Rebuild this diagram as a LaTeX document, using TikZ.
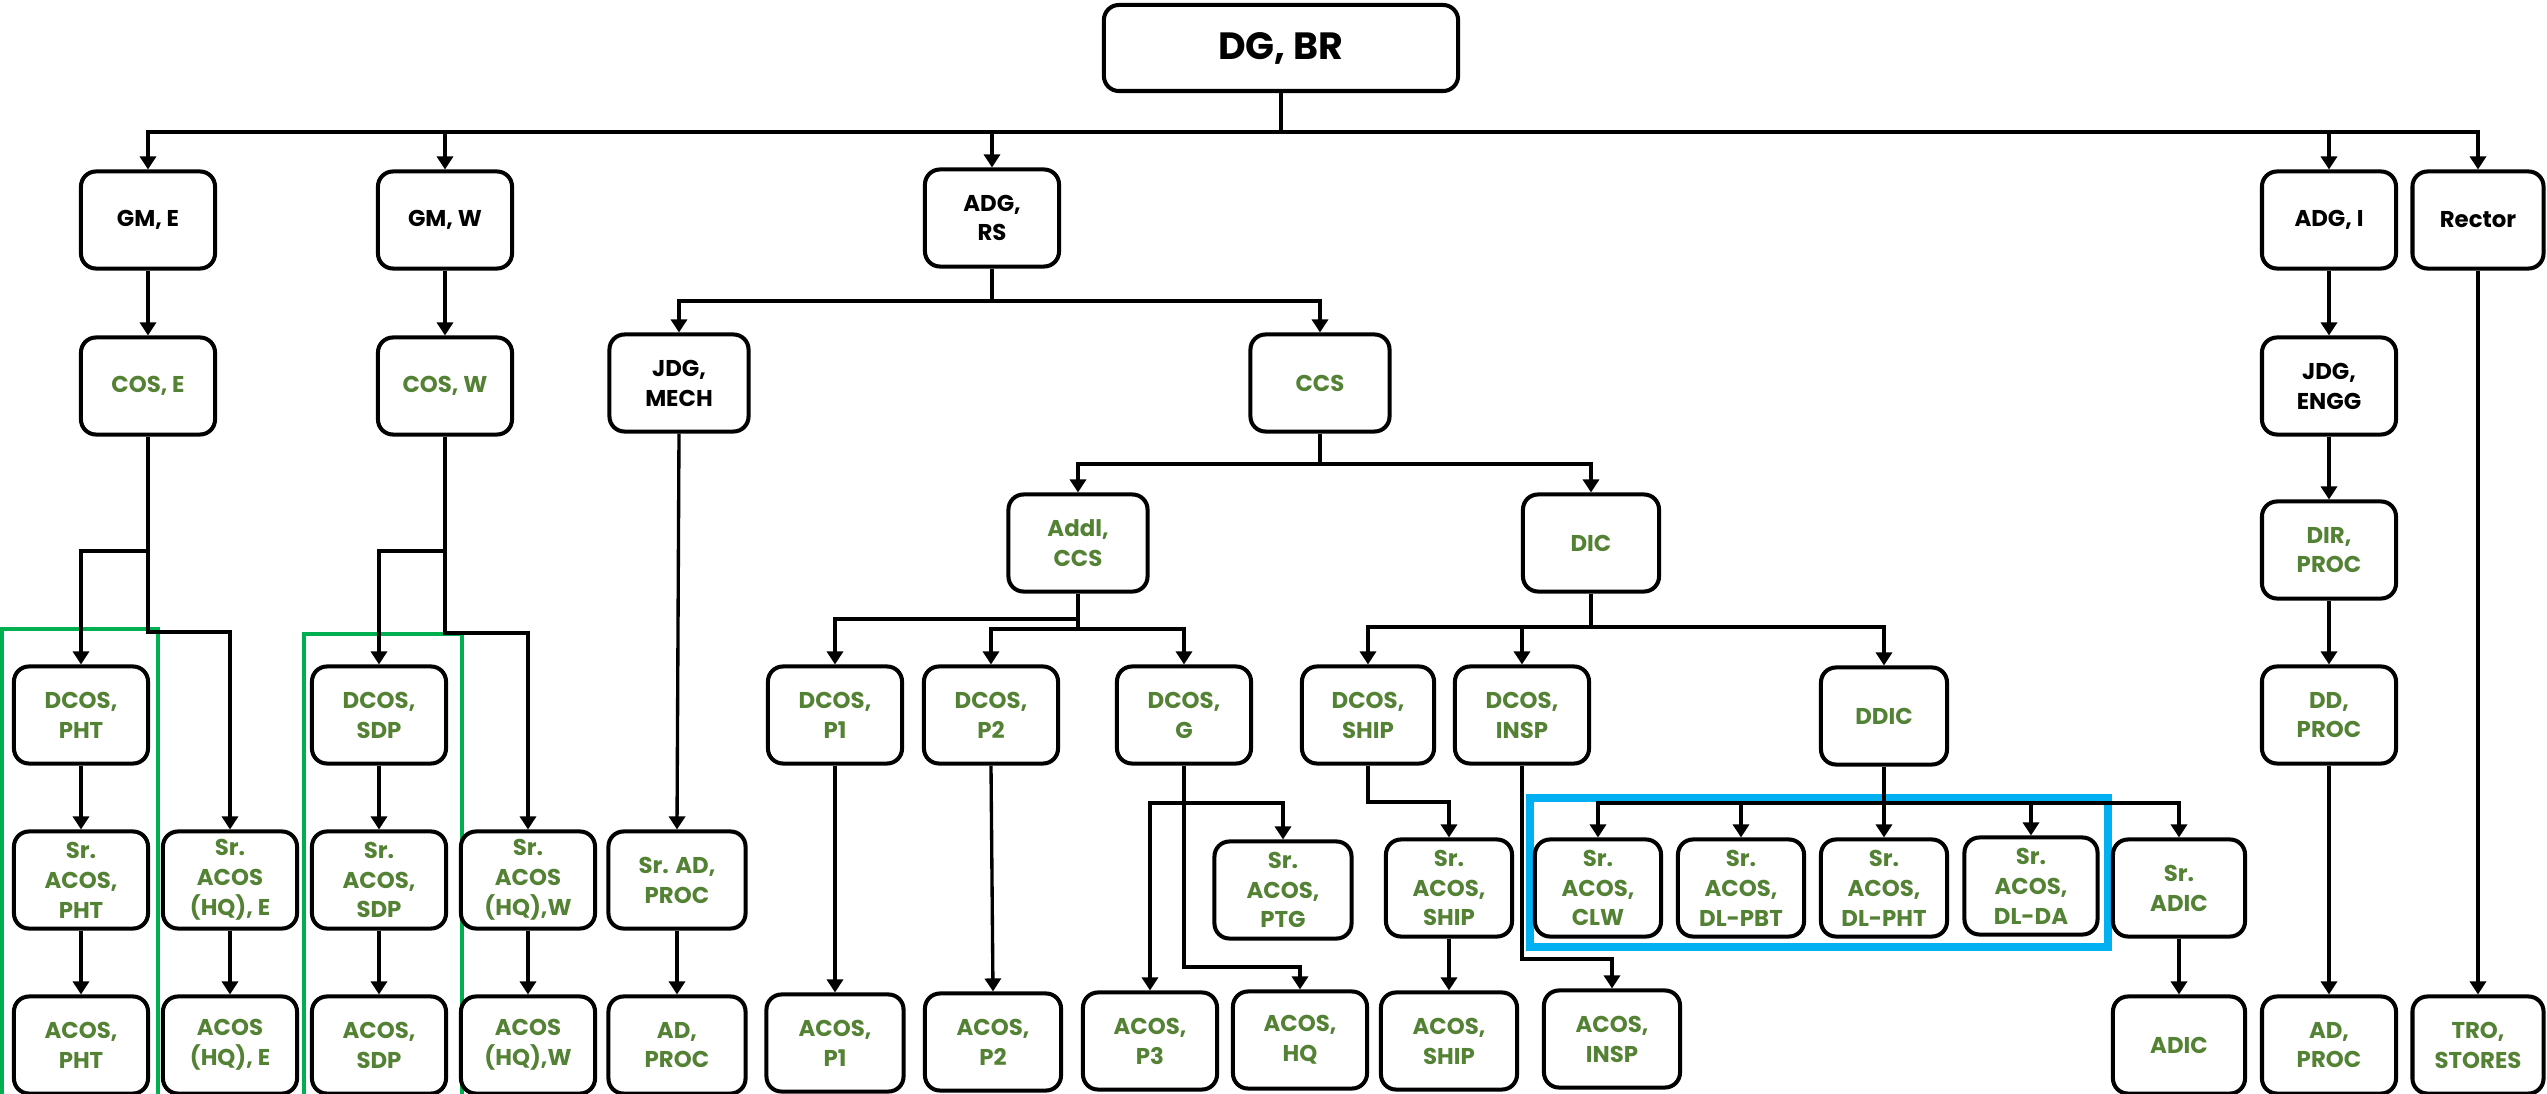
\documentclass[tikz,border=0pt]{standalone}
\usepackage{fontspec}
\setmainfont{Poppins}
\usetikzlibrary{arrows.meta}
\definecolor{txtgreen}{RGB}{84,130,53}
\definecolor{framegreen}{RGB}{0,176,80}
\definecolor{frameblue}{RGB}{0,176,240}
\tikzset{
    orgbox/.style={draw,line width=1.15pt,rounded corners=0.15cm,fill=white,minimum width=1.34cm,minimum height=0.97cm,inner sep=0pt,align=center,font=\fontsize{6.5}{8.5}\selectfont\bfseries},
    grn/.style={orgbox,text=txtgreen},
    ln/.style={line width=0.95pt},
    arr/.style={ln,-{Triangle[length=0.13cm,width=0.16cm]}}
}

\begin{document}
\begin{tikzpicture}[x=0.01cm,y=-0.01cm]
                \useasboundingbox (0,0) rectangle (2547,1094);
                % frames
                \draw[framegreen,line width=1.2pt] (2,1100)--(2,629)--(158,629)--(158,1100);
                \draw[framegreen,line width=1.2pt] (304,1100)--(304,634)--(462,634)--(462,1100);
                \draw[frameblue,line width=2pt] (1530,798) rectangle (2108,947);
                % top
                \node[orgbox,minimum width=3.54cm,minimum height=0.86cm,font=\fontsize{10.8}{12}\selectfont\bfseries] (dg) at (1281,48) {DG, BR};
                \node[orgbox] (gme) at (148,220) {GM, E};
                \node[orgbox] (gmw) at (445,220) {GM, W};
                \node[orgbox] (adgrs) at (992,218) {ADG,\\RS};
                \node[orgbox] (adgi) at (2329,220) {ADG, I};
                \node[orgbox,minimum width=1.31cm] (rector) at (2478,220) {Rector};
                % second row
                \node[grn] (cose) at (148,386) {COS, E};
                \node[grn] (cosw) at (445,386) {COS, W};
                \node[orgbox,minimum width=1.39cm] (jdgmech) at (679,383) {JDG,\\MECH};
                \node[grn,minimum width=1.39cm] (ccs) at (1320,383) {CCS};
                \node[orgbox] (jdgengg) at (2329,386) {JDG,\\ENGG};
                \node[grn,minimum width=1.39cm] (addl) at (1078,543) {Addl,\\CCS};
                \node[grn,minimum width=1.36cm] (dic) at (1591,543) {DIC};
                \node[grn] (dirproc) at (2329,550) {DIR,\\PROC};
                % DCOS row
                \node[grn] (dcospht) at (81,715) {DCOS,\\PHT};
                \node[grn] (dcossdp) at (379,715) {DCOS,\\SDP};
                \node[grn] (dcosp1) at (835,715) {DCOS,\\P1};
                \node[grn] (dcosp2) at (991,715) {DCOS,\\P2};
                \node[grn] (dcosg) at (1184,715) {DCOS,\\G};
                \node[grn,minimum width=1.32cm] (dcosship) at (1368,715) {DCOS,\\SHIP};
                \node[grn] (dcosinsp) at (1522,715) {DCOS,\\INSP};
                \node[grn,minimum width=1.26cm] (ddic) at (1884,716) {DDIC};
                \node[grn] (ddproc) at (2329,715) {DD,\\PROC};
                % Sr. row
                \node[grn] (sracospht) at (81,880) {Sr.\\ACOS,\\PHT};
                \node[grn] (sracoshqe) at (230,880) {Sr.\\ACOS\\(HQ), E};
                \node[grn] (sracossdp) at (379,880) {Sr.\\ACOS,\\SDP};
                \node[grn] (sracoshqw) at (528,880) {Sr.\\ACOS\\(HQ),W};
                \node[grn,minimum width=1.37cm] (sradproc) at (677,880) {Sr. AD,\\PROC};
                \node[grn,minimum width=1.37cm] (sracosptg) at (1283,890) {Sr.\\ACOS,\\PTG};
                \node[grn,minimum width=1.26cm] (sracosship) at (1449,888) {Sr.\\ACOS,\\SHIP};
                \node[grn,minimum width=1.26cm] (sracosclw) at (1598,888) {Sr.\\ACOS,\\CLW};
                \node[grn,minimum width=1.26cm] (sracospbt) at (1741,888) {Sr.\\ACOS,\\DL-PBT};
                \node[grn,minimum width=1.26cm] (sracosdlpht) at (1884,888) {Sr.\\ACOS,\\DL-PHT};
                \node[grn,minimum width=1.33cm] (sracosda) at (2031,886) {Sr.\\ACOS,\\DL-DA};
                \node[grn,minimum width=1.32cm] (sradic) at (2179,888) {Sr.\\ADIC};
                % bottom row
                \node[grn] (acospht) at (81,1045) {ACOS,\\PHT};
                \node[grn] (acoshqe) at (230,1045) {ACOS\\(HQ), E};
                \node[grn] (acossdp) at (379,1045) {ACOS,\\SDP};
                \node[grn] (acoshqw) at (528,1045) {ACOS\\(HQ),W};
                \node[grn,minimum width=1.37cm] (adproca) at (677,1045) {AD,\\PROC};
                \node[grn,minimum width=1.37cm] (acosp1) at (835,1043) {ACOS,\\P1};
                \node[grn,minimum width=1.36cm] (acosp2) at (993,1042) {ACOS,\\P2};
                \node[grn] (acosp3) at (1150,1041) {ACOS,\\P3};
                \node[grn] (acoshq) at (1300,1040) {ACOS,\\HQ};
                \node[grn,minimum width=1.36cm] (acosship) at (1449,1041) {ACOS,\\SHIP};
                \node[grn,minimum width=1.36cm] (acosinsp) at (1612,1039) {ACOS,\\INSP};
                \node[grn,minimum width=1.32cm] (adic) at (2179,1045) {ADIC};
                \node[grn] (adprocb) at (2329,1045) {AD,\\PROC};
                \node[grn,minimum width=1.31cm] (trostores) at (2478,1045) {TRO,\\STORES};
                % bends
                \coordinate (b0) at (1281,132);
                \coordinate (rs) at (992,301);
                \coordinate (ea) at (148,551);
                \coordinate (eb) at (148,632);
                \coordinate (wa) at (445,551);
                \coordinate (wb) at (445,633);
                \coordinate (cc) at (1320,464);
                \coordinate (pa) at (1078,619);
                \coordinate (pb) at (1078,629);
                \coordinate (ga) at (1184,803);
                \coordinate (gb) at (1184,967);
                \coordinate (di) at (1591,627);
                \coordinate (sh) at (1368,802);
                \coordinate (ins) at (1522,959);
                \coordinate (dd) at (1884,803);
                % connectors
                \draw[ln] (dg.south)--(b0);
                \foreach \n in {gme,gmw,adgrs,adgi,rector}
                    \draw[arr] (b0) -| (\n.north);
                \draw[arr] (gme)--(cose);
                \draw[arr] (gmw)--(cosw);
                \draw[arr] (cose.south)--(ea) -| (dcospht.north);
                \draw[arr] (cose.south)--(eb) -| (sracoshqe.north);
                \draw[arr] (cosw.south)--(wa) -| (dcossdp.north);
                \draw[arr] (cosw.south)--(wb) -| (sracoshqw.north);
                \draw[arr] (dcospht)--(sracospht);
                \draw[arr] (sracospht)--(acospht);
                \draw[arr] (sracoshqe)--(acoshqe);
                \draw[arr] (dcossdp)--(sracossdp);
                \draw[arr] (sracossdp)--(acossdp);
                \draw[arr] (sracoshqw)--(acoshqw);
                \draw[ln] (adgrs.south)--(rs);
                \draw[arr] (rs) -| (jdgmech.north);
                \draw[arr] (rs) -| (ccs.north);
                \draw[arr] (jdgmech.south)--(sradproc.north);
                \draw[arr] (sradproc)--(adproca);
                \draw[ln] (ccs.south)--(cc);
                \draw[arr] (cc) -| (addl.north);
                \draw[arr] (cc) -| (dic.north);
                \draw[arr] (addl.south)--(pa) -| (dcosp1.north);
                \draw[arr] (addl.south)--(pb) -| (dcosp2.north);
                \draw[arr] (pb) -| (dcosg.north);
                \draw[arr] (dcosp1.south)--(acosp1.north);
                \draw[arr] (dcosp2.south)--(acosp2.north);
                \draw[arr] (dcosg.south)--(ga) -| (sracosptg.north);
                \draw[arr] (ga) -| (acosp3.north);
                \draw[arr] (dcosg.south)--(gb) -| (acoshq.north);
                \draw[ln] (dic.south)--(di);
                \foreach \n in {dcosship,dcosinsp,ddic}
                    \draw[arr] (di) -| (\n.north);
                \draw[arr] (dcosship.south)--(sh) -| (sracosship.north);
                \draw[arr] (sracosship)--(acosship);
                \draw[arr] (dcosinsp.south)--(ins) -| (acosinsp.north);
                \draw[ln] (ddic.south)--(dd);
                \foreach \n in {sracosclw,sracospbt,sracosdlpht,sracosda,sradic}
                    \draw[arr] (dd) -| (\n.north);
                \draw[arr] (sradic)--(adic);
                \draw[arr] (adgi)--(jdgengg);
                \draw[arr] (jdgengg)--(dirproc);
                \draw[arr] (dirproc)--(ddproc);
                \draw[arr] (ddproc)--(adprocb);
                \draw[arr] (rector)--(trostores);
            \end{tikzpicture}
\end{document}
